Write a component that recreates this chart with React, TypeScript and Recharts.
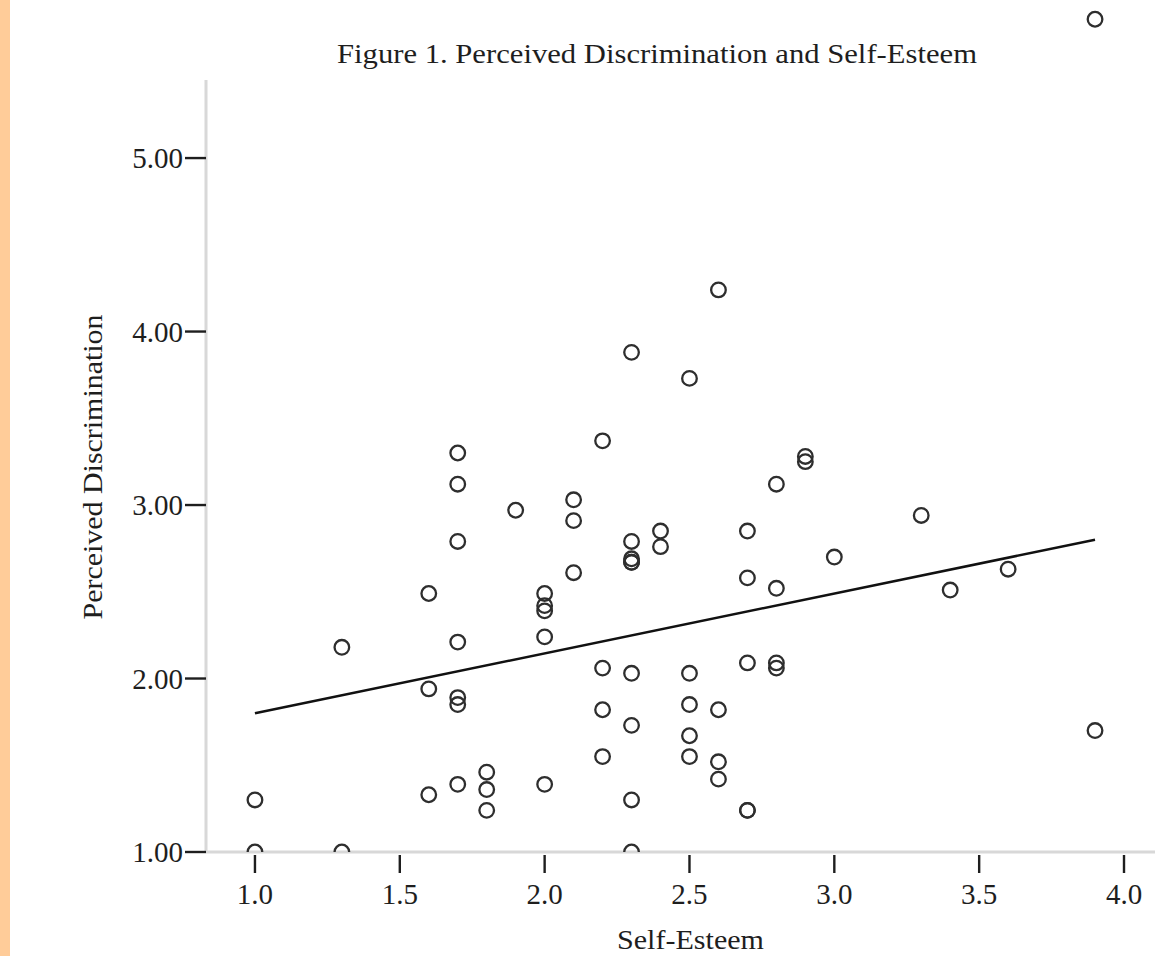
import React from "react";
import {
  ScatterChart,
  Scatter,
  XAxis,
  YAxis,
  ReferenceLine,
  Label,
} from "recharts";

// ---- data ----
const selfEsteem: number[] = [
  1.0, 1.0,
  1.3, 1.3,
  1.6, 1.6, 1.6,
  1.7, 1.7, 1.7, 1.7, 1.7, 1.7, 1.7,
  1.8, 1.8, 1.8,
  1.9,
  2.0, 2.0, 2.0, 2.0, 2.0,
  2.1, 2.1, 2.1,
  2.2, 2.2, 2.2, 2.2,
  2.3, 2.3, 2.3, 2.3, 2.3, 2.3, 2.3, 2.3, 2.3,
  2.4, 2.4,
  2.5, 2.5, 2.5, 2.5, 2.5,
  2.6, 2.6, 2.6, 2.6,
  2.7, 2.7, 2.7, 2.7, 2.7,
  2.8, 2.8, 2.8, 2.8,
  2.9, 2.9,
  3.0,
  3.3,
  3.4,
  3.6,
  3.9, 3.9,
];

const perceivedDiscrimination: number[] = [
  1.30, 1.00,
  2.18, 1.00,
  2.49, 1.94, 1.33,
  3.30, 3.12, 2.79, 2.21, 1.89, 1.85, 1.39,
  1.46, 1.36, 1.24,
  2.97,
  2.49, 2.42, 2.39, 2.24, 1.39,
  3.03, 2.91, 2.61,
  3.37, 2.06, 1.82, 1.55,
  3.88, 2.79, 2.69, 2.67, 2.67, 2.03, 1.73, 1.30, 1.00,
  2.85, 2.76,
  3.73, 2.03, 1.85, 1.67, 1.55,
  4.24, 1.82, 1.52, 1.42,
  2.85, 2.58, 2.09, 1.24, 1.24,
  3.12, 2.52, 2.09, 2.06,
  3.28, 3.25,
  2.70,
  2.94,
  2.51,
  2.63,
  5.80, 1.70,
];

// fit line endpoints
const fitX: number[] = [1.0, 3.9];
const fitY: number[] = [1.8, 2.8];

const xTicks: number[] = [1.0, 1.5, 2.0, 2.5, 3.0, 3.5, 4.0];
const yTicks: number[] = [1.0, 2.0, 3.0, 4.0, 5.0];

const X_DOMAIN: [number, number] = [0.831, 4.107];
const Y_DOMAIN: [number, number] = [1.0, 5.888];
const Y_AXIS_TOP = 5.45;

const TITLE = "Figure 1. Perceived Discrimination and Self-Esteem";
const X_LABEL = "Self-Esteem";
const Y_LABEL = "Perceived Discrimination";

const points = selfEsteem.map((x, i) => ({ x, y: perceivedDiscrimination[i] }));

const FONT = '"Liberation Serif", "Times New Roman", serif';
const INK = "#1e1e1e";
const AXIS_GRAY = "#d8d8d8";
const R = 7.3;

const Circle = (props: any) => {
  const { cx, cy, payload } = props;
  if (cx == null || cy == null) return null;
  // points sitting on the bottom edge of the plot are cut by the axis
  if (payload && payload.y <= Y_DOMAIN[0]) {
    return (
      <path
        d={`M ${cx - R} ${cy} A ${R} ${R} 0 0 1 ${cx + R} ${cy}`}
        fill="none"
        stroke="#2e2e2e"
        strokeWidth={2.3}
      />
    );
  }
  return <circle cx={cx} cy={cy} r={R} fill="none" stroke="#2e2e2e" strokeWidth={2.3} />;
};

const XTick = (props: any) => {
  const { x, y, payload } = props;
  return (
    <g>
      <line x1={x} x2={x} y1={y + 3} y2={y + 21} stroke={INK} strokeWidth={2.4} />
      <text x={x} y={y + 52} textAnchor="middle" fontSize={29} fontFamily={FONT} fill={INK}>
        {Number(payload.value).toFixed(1)}
      </text>
    </g>
  );
};

const YTick = (props: any) => {
  const { x, y, payload } = props;
  return (
    <g>
      <line x1={x - 21} x2={x} y1={y} y2={y} stroke={INK} strokeWidth={2.4} />
      <text x={x - 23} y={y + 10} textAnchor="end" fontSize={29} fontFamily={FONT} fill={INK}>
        {Number(payload.value).toFixed(2)}
      </text>
    </g>
  );
};

const XLabel = (props: any) => {
  const vb = props.viewBox || { x: 206, y: 852, width: 949, height: 100 };
  return (
    <text
      x={vb.x + vb.width / 2 + 10}
      y={vb.y + 97}
      textAnchor="middle"
      fontSize={28}
      fontFamily={FONT}
      fill={INK}
      textLength={147}
      lengthAdjust="spacingAndGlyphs"
    >
      {X_LABEL}
    </text>
  );
};

const YLabel = () => {
  const cx = 102;
  const cy = 467;
  return (
    <text
      x={cx}
      y={cy}
      transform={`rotate(-90, ${cx}, ${cy})`}
      textAnchor="middle"
      fontSize={28}
      fontFamily={FONT}
      fill={INK}
      textLength={305}
      lengthAdjust="spacingAndGlyphs"
    >
      {Y_LABEL}
    </text>
  );
};

export default function App() {
  return (
    <div
      style={{
        position: "absolute",
        left: 0,
        top: 0,
        width: 1155,
        height: 956,
        background: "#ffffff",
        overflow: "hidden",
      }}
    >
      <div
        style={{
          position: "absolute",
          left: 0,
          top: 0,
          width: 10,
          height: 956,
          background: "#FFCC99",
        }}
      />
      <ScatterChart
        width={1155}
        height={956}
        margin={{ top: 4, right: 0, bottom: 4, left: 0 }}
      >
        <XAxis
          type="number"
          dataKey="x"
          domain={X_DOMAIN}
          allowDataOverflow
          ticks={xTicks}
          tickSize={0}
          tickMargin={0}
          tickLine={false}
          tick={<XTick />}
          axisLine={{ stroke: AXIS_GRAY, strokeWidth: 3 }}
          height={100}
          interval={0}
        >
          <Label content={<XLabel />} />
        </XAxis>
        <YAxis
          type="number"
          dataKey="y"
          domain={Y_DOMAIN}
          allowDataOverflow
          ticks={yTicks}
          tickSize={0}
          tickMargin={0}
          tickLine={false}
          tick={<YTick />}
          axisLine={false}
          width={206}
          interval={0}
        >
          <Label content={<YLabel />} />
        </YAxis>
        <ReferenceLine
          segment={[
            { x: X_DOMAIN[0], y: Y_DOMAIN[0] },
            { x: X_DOMAIN[0], y: Y_AXIS_TOP },
          ]}
          stroke={AXIS_GRAY}
          strokeWidth={3}
          ifOverflow="visible"
        />
        <ReferenceLine
          segment={[
            { x: fitX[0], y: fitY[0] },
            { x: fitX[1], y: fitY[1] },
          ]}
          stroke="#111111"
          strokeWidth={2.5}
          ifOverflow="visible"
        />
        <Scatter data={points} shape={<Circle />} isAnimationActive={false} />
      </ScatterChart>
      <svg
        width={1155}
        height={956}
        style={{ position: "absolute", left: 0, top: 0, pointerEvents: "none" }}
      >
        <text
          x={657}
          y={63}
          textAnchor="middle"
          fontSize={28}
          fontFamily={FONT}
          fill={INK}
          textLength={640}
          lengthAdjust="spacingAndGlyphs"
        >
          {TITLE}
        </text>
      </svg>
    </div>
  );
}
